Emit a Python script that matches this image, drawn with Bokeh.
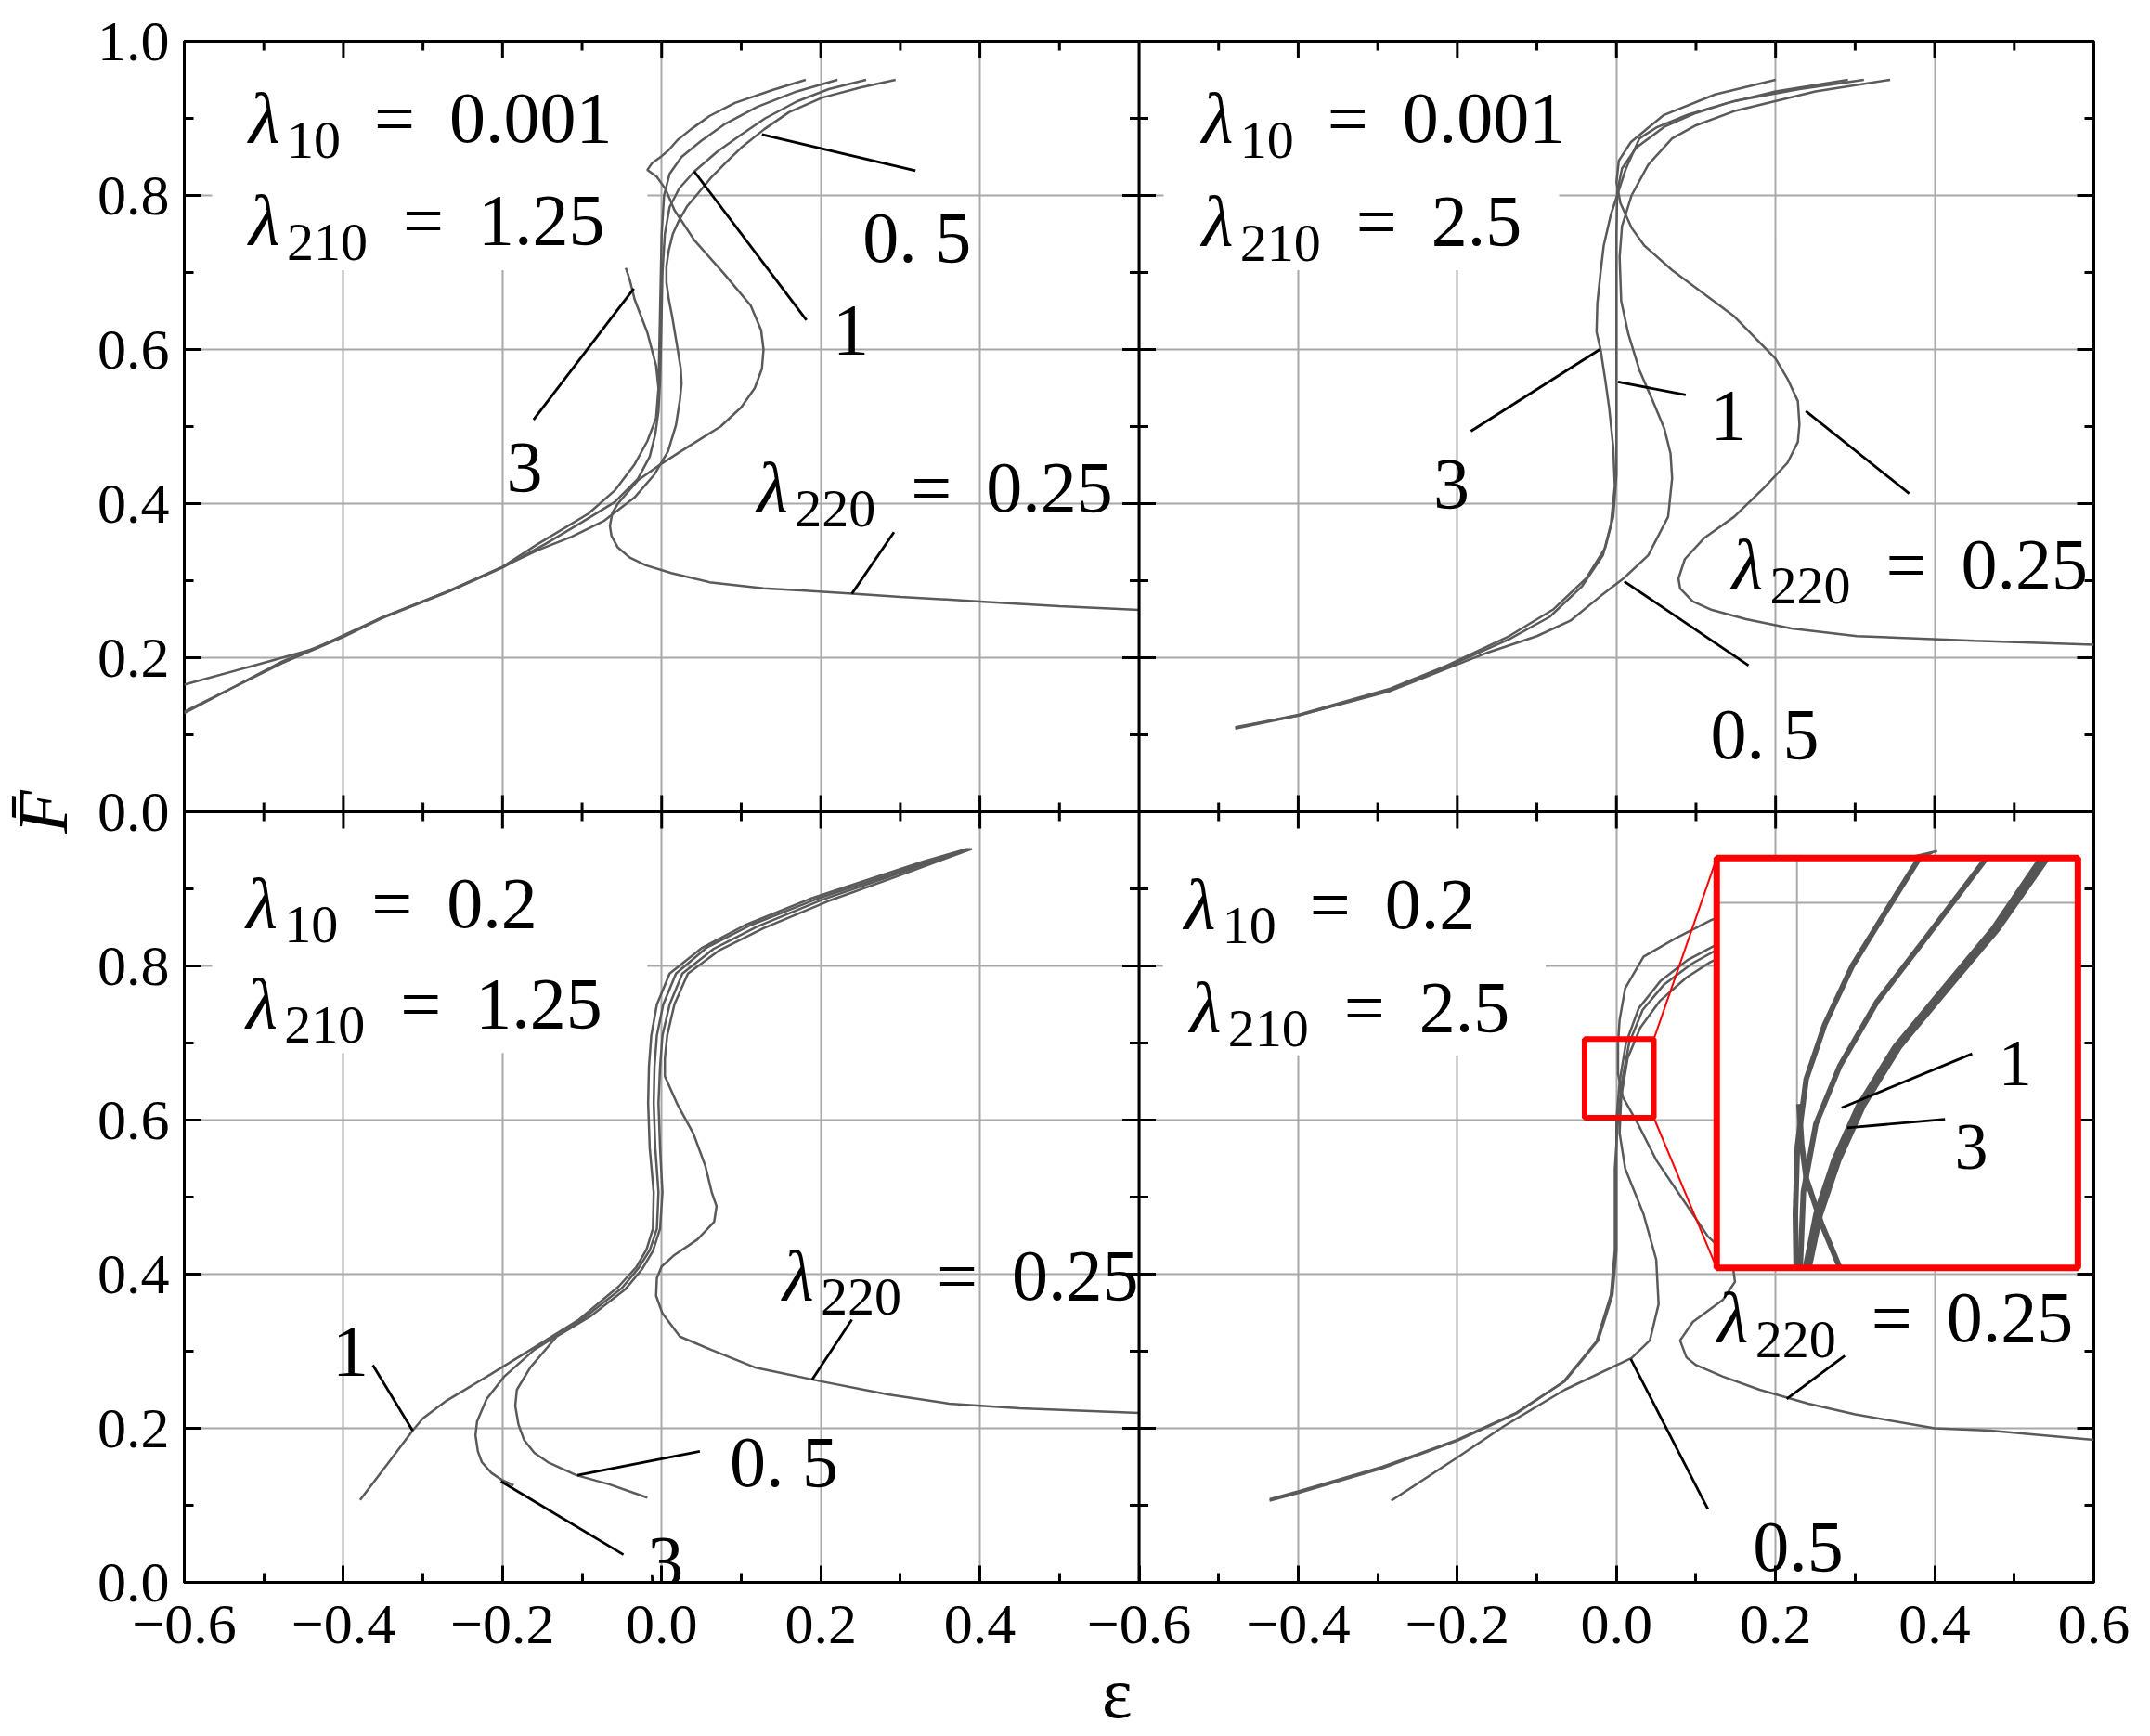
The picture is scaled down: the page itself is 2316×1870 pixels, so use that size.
import math
from bokeh.plotting import figure
from bokeh.layouts import column
from bokeh.models import (Range1d, LinearAxis, FixedTicker, CustomJSTickFormatter,
                          Label, BoxAnnotation, Span, Div)
from bokeh.embed import file_html
from bokeh.resources import INLINE

NAN = float("nan")

# ---------------- axes / ticks (whole 2x2 block: x in [-0.6, 1.8], y in [0, 2]) ----------------
X_TICKS = [-0.6, -0.4, -0.2, 0.0, 0.2, 0.4, 0.6, 0.8, 1.0, 1.2, 1.4, 1.6, 1.8]
X_MINOR = [-0.5, -0.3, -0.1, 0.1, 0.3, 0.5, 0.7, 0.9, 1.1, 1.3, 1.5, 1.7]
Y_TICKS = [0.0, 0.2, 0.4, 0.6, 0.8, 1.0, 1.2, 1.4, 1.6, 1.8, 2.0]
Y_MINOR = [0.1, 0.3, 0.5, 0.7, 0.9, 1.1, 1.3, 1.5, 1.7, 1.9]
INNER_X_TICKS = [-0.4, -0.2, 0.0, 0.2, 0.4, 0.8, 1.0, 1.2, 1.4, 1.6]
INNER_Y_TICKS = [0.2, 0.4, 0.6, 0.8, 1.2, 1.4, 1.6, 1.8]

# ---------------- curves (eps, F) per panel ----------------
# top-left: lambda10 = 0.001, lambda210 = 1.25
TL_025 = [(0.600, 0.262), (0.500, 0.267), (0.400, 0.273), (0.300, 0.279), (0.240, 0.283), (0.180, 0.287),
          (0.128, 0.290), (0.060, 0.298), (0.012, 0.310), (-0.020, 0.320), (-0.040, 0.330), (-0.055, 0.343),
          (-0.063, 0.358), (-0.065, 0.371), (-0.062, 0.388), (-0.055, 0.400), (-0.045, 0.412), (-0.030, 0.430),
          (0.000, 0.452), (0.032, 0.473), (0.074, 0.500), (0.100, 0.525), (0.117, 0.550), (0.126, 0.575),
          (0.128, 0.600), (0.125, 0.625), (0.112, 0.657), (0.078, 0.699), (0.041, 0.742), (0.016, 0.781),
          (0.005, 0.808), (-0.006, 0.824), (-0.018, 0.833), (-0.012, 0.842), (0.000, 0.851), (0.009, 0.859),
          (0.020, 0.872), (0.037, 0.886), (0.060, 0.903), (0.092, 0.920), (0.140, 0.937), (0.181, 0.950)]
TL_05 = [(0.294, 0.950), (0.250, 0.940), (0.202, 0.927), (0.160, 0.908), (0.129, 0.886), (0.100, 0.862),
         (0.083, 0.845), (0.062, 0.823), (0.046, 0.803), (0.032, 0.786), (0.022, 0.768), (0.014, 0.750),
         (0.009, 0.729), (0.006, 0.708), (0.006, 0.687), (0.009, 0.665), (0.013, 0.644), (0.020, 0.601),
         (0.024, 0.575), (0.025, 0.556), (0.023, 0.535), (0.018, 0.502), (0.008, 0.468), (-0.009, 0.438),
         (-0.034, 0.408), (-0.072, 0.378), (-0.113, 0.357), (-0.155, 0.340), (-0.200, 0.318), (-0.269, 0.286),
         (-0.352, 0.252), (-0.400, 0.229), (-0.435, 0.212), (-0.519, 0.188), (-0.600, 0.165)]
TL_1 = [(0.257, 0.950), (0.210, 0.938), (0.170, 0.922), (0.130, 0.900), (0.100, 0.879), (0.070, 0.857),
        (0.041, 0.831), (0.022, 0.809), (0.010, 0.785), (0.004, 0.750), (0.001, 0.700), (0.000, 0.650),
        (-0.001, 0.600), (-0.002, 0.560), (-0.004, 0.520), (-0.008, 0.490), (-0.015, 0.461), (-0.030, 0.432),
        (-0.059, 0.402), (-0.100, 0.376), (-0.144, 0.349), (-0.200, 0.317), (-0.269, 0.285), (-0.352, 0.251),
        (-0.400, 0.227), (-0.477, 0.193), (-0.600, 0.130)]
TL_3 = [(0.221, 0.950), (0.170, 0.935), (0.120, 0.915), (0.080, 0.893), (0.050, 0.871), (0.025, 0.850),
        (0.010, 0.828), (0.003, 0.800), (0.000, 0.750), (-0.001, 0.700), (-0.002, 0.650), (-0.003, 0.600),
        (-0.004, 0.550), (-0.007, 0.511), (-0.018, 0.481), (-0.034, 0.451), (-0.059, 0.417), (-0.092, 0.387),
        (-0.134, 0.361), (-0.155, 0.348), (-0.200, 0.318), (-0.269, 0.286), (-0.352, 0.252), (-0.400, 0.228),
        (-0.477, 0.195), (-0.600, 0.128), (NAN, NAN),
        (-0.045, 0.706), (-0.040, 0.690), (-0.034, 0.665), (-0.018, 0.622), (-0.007, 0.579), (-0.004, 0.550)]

# top-right: lambda10 = 0.001, lambda210 = 2.5
TR_025 = [(0.600, 0.217), (0.450, 0.222), (0.302, 0.228), (0.220, 0.238), (0.163, 0.250), (0.120, 0.262),
          (0.096, 0.273), (0.080, 0.290), (0.078, 0.303), (0.086, 0.328), (0.110, 0.355), (0.148, 0.383),
          (0.185, 0.420), (0.215, 0.453), (0.228, 0.480), (0.230, 0.503), (0.228, 0.533), (0.215, 0.562),
          (0.200, 0.588), (0.148, 0.643), (0.070, 0.703), (0.035, 0.735), (0.019, 0.758), (0.005, 0.790),
          (0.000, 0.817), (0.003, 0.845), (0.018, 0.869), (0.059, 0.904), (0.124, 0.931), (0.200, 0.950)]
TR_05 = [(0.344, 0.950), (0.250, 0.935), (0.150, 0.910), (0.100, 0.891), (0.070, 0.874), (0.040, 0.840),
         (0.019, 0.800), (0.007, 0.760), (0.004, 0.720), (0.006, 0.663), (0.015, 0.620), (0.029, 0.573),
         (0.045, 0.535), (0.060, 0.498), (0.068, 0.465), (0.070, 0.433), (0.065, 0.383), (0.040, 0.333),
         (0.009, 0.303), (-0.020, 0.280), (-0.058, 0.248), (-0.100, 0.228), (-0.161, 0.207), (-0.213, 0.186),
         (-0.284, 0.157), (-0.400, 0.125), (-0.479, 0.110)]
TR_1 = [(0.291, 0.950), (0.200, 0.935), (0.140, 0.920), (0.100, 0.907), (0.060, 0.889), (0.025, 0.862),
        (0.007, 0.835), (0.001, 0.805), (0.000, 0.750), (0.000, 0.650), (0.000, 0.550), (0.000, 0.480),
        (0.000, 0.438), (-0.004, 0.383), (-0.014, 0.343), (-0.038, 0.303), (-0.079, 0.263), (-0.135, 0.228),
        (-0.213, 0.190), (-0.284, 0.160), (-0.400, 0.126), (-0.479, 0.109)]
TR_3 = [(0.311, 0.950), (0.230, 0.938), (0.150, 0.923), (0.090, 0.905), (0.050, 0.888), (0.029, 0.874),
        (0.012, 0.835), (-0.007, 0.775), (-0.016, 0.735), (-0.020, 0.700), (-0.024, 0.660), (-0.025, 0.623),
        (-0.020, 0.600), (-0.014, 0.560), (-0.009, 0.523), (-0.004, 0.473), (-0.002, 0.423), (-0.007, 0.373),
        (-0.017, 0.333), (-0.043, 0.293), (-0.084, 0.253), (-0.135, 0.224), (-0.213, 0.188), (-0.284, 0.158),
        (-0.400, 0.125), (-0.479, 0.108)]

# bottom-left: lambda10 = 0.2, lambda210 = 1.25
BL_025 = [(0.390, 0.952), (0.340, 0.933), (0.290, 0.914), (0.209, 0.884), (0.128, 0.849), (0.072, 0.820),
          (0.033, 0.790), (0.016, 0.750), (0.007, 0.710), (0.004, 0.680), (0.004, 0.657), (0.020, 0.620),
          (0.040, 0.582), (0.055, 0.540), (0.063, 0.506), (0.069, 0.488), (0.066, 0.468), (0.045, 0.445),
          (0.015, 0.424), (0.000, 0.410), (-0.006, 0.395), (-0.007, 0.372), (0.001, 0.349), (0.023, 0.319),
          (0.062, 0.302), (0.117, 0.279), (0.200, 0.261), (0.284, 0.244), (0.361, 0.232), (0.450, 0.226),
          (0.600, 0.220)]
BL_05 = [(0.388, 0.952), (0.336, 0.934), (0.284, 0.915), (0.202, 0.886), (0.120, 0.851), (0.065, 0.822),
         (0.026, 0.790), (0.010, 0.750), (0.001, 0.710), (-0.002, 0.669), (-0.004, 0.622), (-0.002, 0.564),
         (0.001, 0.506), (-0.002, 0.459), (-0.011, 0.430), (-0.025, 0.406), (-0.046, 0.380), (-0.090, 0.345),
         (-0.132, 0.319), (-0.165, 0.279), (-0.182, 0.250), (-0.184, 0.229), (-0.180, 0.205), (-0.173, 0.185),
         (-0.160, 0.168), (-0.143, 0.156), (-0.107, 0.139), (-0.065, 0.127), (-0.018, 0.110)]
BL_1 = [(0.384, 0.952), (0.330, 0.936), (0.274, 0.917), (0.189, 0.888), (0.105, 0.853), (0.050, 0.823),
        (0.010, 0.790), (-0.006, 0.750), (-0.013, 0.710), (-0.016, 0.669), (-0.017, 0.622), (-0.015, 0.564),
        (-0.010, 0.506), (-0.011, 0.459), (-0.019, 0.432), (-0.032, 0.409), (-0.054, 0.384), (-0.104, 0.341),
        (-0.160, 0.305), (-0.215, 0.270), (-0.270, 0.236), (-0.300, 0.213), (-0.313, 0.197), (-0.345, 0.153),
        (-0.379, 0.107)]
BL_3 = [(0.386, 0.952), (0.333, 0.935), (0.279, 0.916), (0.195, 0.887), (0.112, 0.853), (0.057, 0.824),
        (0.018, 0.790), (0.002, 0.750), (-0.006, 0.710), (-0.009, 0.669), (-0.010, 0.622), (-0.008, 0.564),
        (-0.004, 0.506), (-0.006, 0.459), (-0.015, 0.431), (-0.029, 0.408), (-0.050, 0.382), (-0.104, 0.338),
        (-0.160, 0.302), (-0.198, 0.267), (-0.220, 0.238), (-0.232, 0.209), (-0.234, 0.191), (-0.231, 0.170),
        (-0.226, 0.156), (-0.214, 0.142), (-0.201, 0.133), (-0.186, 0.126)]

# bottom-right: lambda10 = 0.2, lambda210 = 2.5
BR_025 = [(0.600, 0.185), (0.470, 0.197), (0.400, 0.200), (0.300, 0.218), (0.241, 0.232), (0.180, 0.250),
          (0.134, 0.267), (0.100, 0.282), (0.088, 0.292), (0.080, 0.314), (0.096, 0.338), (0.134, 0.367),
          (0.149, 0.390), (0.145, 0.420), (0.115, 0.449), (0.088, 0.490), (0.050, 0.548), (0.027, 0.595),
          (0.008, 0.630), (0.002, 0.660), (0.002, 0.700), (0.004, 0.730), (0.011, 0.771), (0.034, 0.812),
          (0.073, 0.835), (0.118, 0.859), (0.200, 0.890), (0.300, 0.925), (0.403, 0.949)]
BR_05 = [(-0.283, 0.106), (-0.200, 0.162), (-0.141, 0.203), (-0.065, 0.250), (0.019, 0.291), (0.042, 0.314),
         (0.053, 0.361), (0.050, 0.419), (0.034, 0.478), (0.011, 0.537), (0.004, 0.583), (0.006, 0.630),
         (0.014, 0.680), (0.030, 0.720), (0.055, 0.755), (0.088, 0.785), (0.118, 0.805), (0.200, 0.845),
         (0.300, 0.895), (0.397, 0.947)]
BR_1 = [(-0.436, 0.108), (-0.400, 0.118), (-0.294, 0.150), (-0.200, 0.185), (-0.126, 0.220), (-0.065, 0.261),
        (-0.023, 0.314), (-0.005, 0.373), (0.000, 0.431), (0.000, 0.537), (0.000, 0.600), (0.004, 0.650),
        (0.012, 0.700), (0.028, 0.745), (0.055, 0.780), (0.090, 0.808), (0.130, 0.830), (0.200, 0.860),
        (0.300, 0.905), (0.390, 0.945)]
BR_3 = [(-0.436, 0.106), (-0.400, 0.116), (-0.294, 0.148), (-0.200, 0.184), (-0.126, 0.219), (-0.067, 0.260),
        (-0.025, 0.313), (-0.007, 0.373), (-0.002, 0.431), (-0.002, 0.537), (0.002, 0.600), (0.007, 0.650),
        (0.016, 0.700), (0.033, 0.743), (0.060, 0.776), (0.095, 0.803), (0.135, 0.826), (0.200, 0.857),
        (0.300, 0.903), (0.393, 0.946)]

# magnified view (inset) of the bottom-right panel, in its own (eps, F) units
INSET_A_EPS = [-0.0002, -0.0004, 0.0001, 0.0023, 0.0069, 0.0138, 0.0228, 0.0305]
INSET_A_F = [0.602, 0.6163, 0.6346, 0.6527, 0.6673, 0.6831, 0.6988, 0.712]
INSET_B_EPS = [0.0008, 0.0016, 0.0047, 0.0107, 0.0199, 0.0320, 0.0472]
INSET_B_F = [0.602, 0.6224, 0.6406, 0.6563, 0.6734, 0.6904, 0.712]
INSET_C1_EPS = [0.0021, 0.0047, 0.0092, 0.0153, 0.0244, 0.0365, 0.0488, 0.0609]
INSET_C3_EPS = [0.0030, 0.0058, 0.0104, 0.0165, 0.0255, 0.0376, 0.0500, 0.0624]
INSET_C_F = [0.602, 0.6163, 0.6309, 0.6455, 0.6613, 0.6770, 0.6929, 0.712]
INSET_D_EPS = [0.0107, 0.0061, 0.0023, 0.0012, 0.0005]
INSET_D_F = [0.602, 0.6139, 0.6261, 0.6350, 0.6460]
INSET_GRID_EPS = [0.0]
INSET_GRID_F = [0.70]

# ---------------- styles / layout constants ----------------
FONT = "Liberation Serif"
CURVE = "#5a5a5a"
GRID = "#a8a8a8"
RED = "#ff0000"
BIG = "78px"
SUB = "58px"
MID = "72px"
TICK_FONT = "62px"
BASE_FIX = {BIG: 19, SUB: 12, MID: 17}   # lift so the glyph baseline sits on the anchor

OFF = {"TL": (0.0, 1.0), "TR": (1.2, 1.0), "BL": (0.0, 0.0), "BR": (1.2, 0.0)}
INSET_SRC_X = (-0.02, 0.07)
INSET_SRC_Y = (0.602, 0.712)
INSET_BOX = (0.126, 0.58, 0.408, 0.94)      # left, right, bottom, top (panel units, BR)
ZOOM_BOX = (-0.040, 0.047, 0.603, 0.705)
TITLE_BOX = {"TL": (-0.565, -0.018, 0.703, 0.995), "TR": (-0.569, -0.072, 0.703, 0.995),
             "BL": (-0.565, -0.018, 0.687, 0.995), "BR": (-0.570, -0.089, 0.684, 0.995)}

XFMT = """
let v = tick;
if (tick > 0.6 + 1e-9) { v = tick - 1.2; } else if (Math.abs(tick - 0.6) < 1e-9) { v = -0.6; }
if (Math.abs(v) < 1e-9) { v = 0; }
return v.toFixed(1).replace('-', '\u2212');
"""
YFMT = """
let v = tick;
if (tick > 1 + 1e-9) { v = tick - 1; } else if (Math.abs(tick - 1) < 1e-9) { v = 0; }
return v.toFixed(1);
"""

PLOT_W, PLOT_H, STRIP_H = 2310, 1804, 64

p = figure(width=PLOT_W, height=PLOT_H, x_range=Range1d(-0.6, 1.8), y_range=Range1d(0, 2),
           x_axis_location=None, y_axis_location=None, toolbar_location=None,
           output_backend="svg")
p.min_border_left = 197
p.min_border_right = 55
p.min_border_top = 44
p.min_border_bottom = 100
p.background_fill_color = "white"
p.border_fill_color = "white"
p.outline_line_color = "black"
p.outline_line_width = 3
p.xgrid.ticker = FixedTicker(ticks=X_TICKS)
p.ygrid.ticker = FixedTicker(ticks=Y_TICKS)
for g in (p.xgrid, p.ygrid):
    g.grid_line_color = GRID
    g.grid_line_width = 2


def make_axis(ticks, minor, fmt, standoff):
    ax = LinearAxis(ticker=FixedTicker(ticks=ticks, minor_ticks=minor))
    ax.axis_line_color = None
    ax.major_tick_in = 18
    ax.major_tick_out = 0
    ax.minor_tick_in = 10
    ax.minor_tick_out = 0
    ax.major_tick_line_color = "black"
    ax.major_tick_line_width = 3
    ax.minor_tick_line_color = "black"
    ax.minor_tick_line_width = 3
    ax.formatter = CustomJSTickFormatter(code=fmt)
    ax.major_label_text_font = FONT
    ax.major_label_text_font_size = TICK_FONT
    ax.major_label_text_color = "black"
    ax.major_label_standoff = standoff
    return ax


ax_b = make_axis(X_TICKS, X_MINOR, XFMT, 25)
p.add_layout(ax_b, "below")
ax_l = make_axis(Y_TICKS, Y_MINOR, YFMT, 16)
ax_l.axis_label = "F\u0304"
ax_l.axis_label_text_font = FONT
ax_l.axis_label_text_font_size = "76px"
ax_l.axis_label_text_font_style = "italic"
ax_l.axis_label_text_color = "black"
ax_l.axis_label_text_align = "left"
ax_l.axis_label_standoff = 14
p.add_layout(ax_l, "left")

# inward ticks on the top and right edges and on both sides of the panel junctions
TICK_RAYS = [
    (INNER_X_TICKS, [2.0] * len(INNER_X_TICKS), 18, [-math.pi / 2]),
    (X_MINOR, [2.0] * len(X_MINOR), 10, [-math.pi / 2]),
    ([1.8] * len(INNER_Y_TICKS), INNER_Y_TICKS, 18, [math.pi]),
    ([1.8] * len(Y_MINOR), Y_MINOR, 10, [math.pi]),
    ([0.6] * len(INNER_Y_TICKS), INNER_Y_TICKS, 18, [0.0, math.pi]),
    ([0.6] * len(Y_MINOR), Y_MINOR, 10, [0.0, math.pi]),
    (INNER_X_TICKS, [1.0] * len(INNER_X_TICKS), 18, [math.pi / 2, -math.pi / 2]),
    (X_MINOR, [1.0] * len(X_MINOR), 10, [math.pi / 2, -math.pi / 2]),
]
p.add_layout(Span(location=0.6, dimension="height", line_color="black", line_width=3))
p.add_layout(Span(location=1.0, dimension="width", line_color="black", line_width=3))
for xs, ys, ln, angs in TICK_RAYS:
    for ang in angs:
        p.ray(x=xs, y=ys, length=ln, angle=ang, length_units="screen", line_color="black", line_width=3)

# white backgrounds behind the parameter texts
for key, (l, r, b, t) in TITLE_BOX.items():
    ox, oy = OFF[key]
    p.add_layout(BoxAnnotation(left=l + ox, right=r + ox, bottom=b + oy, top=t + oy,
                               fill_color="white", fill_alpha=1.0, line_color=None, level="underlay"))


def api(panel):
    ox, oy = OFF[panel]
    return p.subplot(x_source=Range1d(-0.6, 0.6), y_source=Range1d(0, 1),
                     x_target=Range1d(-0.6 + ox, 0.6 + ox), y_target=Range1d(oy, 1 + oy))


def unzip(pts):
    return [q[0] for q in pts], [q[1] for q in pts]


def draw_curves(sp, curves):
    for pts in curves:
        xs, ys = unzip(pts)
        sp.line(xs, ys, line_color=CURVE, line_width=2.5)


def draw_leaders(sp, segs):
    sp.segment([s[0] for s in segs], [s[1] for s in segs], [s[2] for s in segs], [s[3] for s in segs],
               line_color="black", line_width=2.8)


def text(panel, x, y, s, size=BIG, style="normal", dx=0, dy=0):
    ox, oy = OFF[panel]
    p.add_layout(Label(x=x + ox, y=y + oy, text=s, text_font=FONT, text_font_size=size,
                       text_font_style=style, text_color="black", text_baseline="alphabetic",
                       text_align="left", x_offset=dx, y_offset=dy + BASE_FIX[size]))


def lam(panel, x, y, sub, rhs):
    text(panel, x, y, "\u03bb", style="italic", dx=0)
    text(panel, x, y, sub, size=SUB, dx=41, dy=-16)
    eq = 40 + 31 * len(sub) + 33
    text(panel, x, y, "=", dx=eq)
    text(panel, x, y, rhs, dx=eq + 81)


# top-left
s = api("TL")
draw_curves(s, [TL_025, TL_05, TL_1, TL_3])
draw_leaders(s, [(0.126, 0.879, 0.319, 0.832), (0.041, 0.831, 0.182, 0.638),
                 (-0.035, 0.679, -0.161, 0.509), (0.292, 0.363, 0.239, 0.283)])
lam("TL", -0.519, 0.877, "10", "0.001")
lam("TL", -0.519, 0.744, "210", "1.25")
text("TL", 0.2525, 0.7228, "0. 5")
text("TL", 0.215, 0.602, "1")
text("TL", -0.195, 0.424, "3")
lam("TL", 0.1195, 0.398, "220", "0.25")

# top-right
s = api("TR")
draw_curves(s, [TR_025, TR_05, TR_1, TR_3])
draw_leaders(s, [(-0.021, 0.600, -0.183, 0.494), (0.002, 0.558, 0.087, 0.541),
                 (0.238, 0.520, 0.368, 0.413), (0.010, 0.299, 0.166, 0.190)])
lam("TR", -0.521, 0.877, "10", "0.001")
lam("TR", -0.521, 0.743, "210", "2.5")
text("TR", 0.118, 0.078, "0. 5")
text("TR", 0.118, 0.491, "1")
text("TR", -0.230, 0.403, "3")
lam("TR", 0.145, 0.298, "220", "0.25")

# bottom-left
s = api("BL")
draw_curves(s, [BL_025, BL_05, BL_1, BL_3])
draw_leaders(s, [(-0.363, 0.282, -0.313, 0.197), (-0.106, 0.139, 0.048, 0.170),
                 (-0.202, 0.131, -0.048, 0.036), (0.239, 0.341, 0.189, 0.263)])
lam("BL", -0.522, 0.858, "10", "0.2")
lam("BL", -0.522, 0.728, "210", "1.25")
text("BL", -0.414, 0.2776, "1")
text("BL", 0.0854, 0.1336, "0. 5")
text("BL", -0.018, 0.004, "3")
lam("BL", 0.152, 0.375, "220", "0.25")

# bottom-right
s = api("BR")
draw_curves(s, [BR_025, BR_05, BR_1, BR_3])
draw_leaders(s, [(0.018, 0.290, 0.115, 0.095), (0.287, 0.294, 0.214, 0.238)])
lam("BR", -0.543, 0.857, "10", "0.2")
lam("BR", -0.536, 0.723, "210", "2.5")
text("BR", 0.1714, 0.0229, "0.5")
lam("BR", 0.1266, 0.320, "220", "0.25")

# inset (magnified region) in the bottom-right panel
il, ir, ib, it = INSET_BOX
zl, zr, zb, zt = ZOOM_BOX
s.quad(left=[il], right=[ir], bottom=[ib], top=[it], fill_color="white", line_color=None)
ox, oy = OFF["BR"]
ins = p.subplot(x_source=Range1d(*INSET_SRC_X), y_source=Range1d(*INSET_SRC_Y),
                x_target=Range1d(il + ox, ir + ox), y_target=Range1d(ib + oy, it + oy))
for gx in INSET_GRID_EPS:
    ins.segment([gx], [INSET_SRC_Y[0]], [gx], [INSET_SRC_Y[1]], line_color=GRID, line_width=2)
for gy in INSET_GRID_F:
    ins.segment([INSET_SRC_X[0]], [gy], [INSET_SRC_X[1]], [gy], line_color=GRID, line_width=2)
for xs, ys in [(INSET_A_EPS, INSET_A_F), (INSET_B_EPS, INSET_B_F), (INSET_C1_EPS, INSET_C_F),
               (INSET_C3_EPS, INSET_C_F), (INSET_D_EPS, INSET_D_F)]:
    ins.line(xs, ys, line_color="#555555", line_width=6)
s.quad(left=[il], right=[ir], bottom=[ib], top=[it], fill_color=None, line_color=RED, line_width=7)
s.quad(left=[zl], right=[zr], bottom=[zb], top=[zt], fill_color=None, line_color=RED, line_width=6)
s.segment([zr, zr], [zt, zb], [il, il], [it, ib], line_color=RED, line_width=2)
draw_leaders(s, [(0.283, 0.616, 0.447, 0.686), (0.290, 0.590, 0.413, 0.601)])
text("BR", 0.480, 0.653, "1", size=MID)
text("BR", 0.425, 0.545, "3", size=MID)

# x-axis title below the tick labels, just left of the panel junction (as in the figure)
xtitle = Div(text="<span style=\"position:relative; left:1187px;\">\u03b5</span>",
             width=PLOT_W, height=STRIP_H,
             styles={"font-family": "'Liberation Serif'", "font-size": "78px", "line-height": "39px",
                     "color": "#000000", "white-space": "nowrap", "margin": "0", "padding": "0"})

layout = column(p, xtitle, spacing=0)
html = file_html(layout, INLINE, title="F-eps curves")
with open("out.html", "w", encoding="utf-8") as f:
    f.write(html)
